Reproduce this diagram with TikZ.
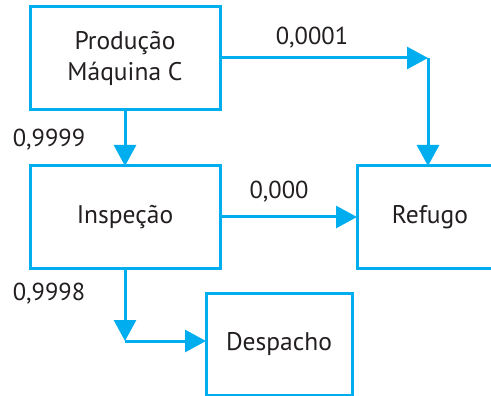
\documentclass[tikz,border=0pt]{standalone}
\usepackage{fontspec}
\setmainfont{PT Sans}
\usetikzlibrary{arrows.meta}
\definecolor{cy}{HTML}{00AEEF}
\definecolor{tx}{HTML}{231F20}
\begin{document}
\begin{tikzpicture}[x=1pt,y=-1pt,
  box/.style={draw=cy,line width=3pt,inner sep=0pt,outer sep=0pt,text=tx,
    font=\fontsize{25.5}{31}\selectfont,align=center},
  conn/.style={draw=cy,line width=3pt,-{Triangle[length=21pt,width=22pt]}},
  lbl/.style={text=tx,font=\fontsize{24.5}{28}\selectfont,inner sep=0pt}]
\useasboundingbox (0,0) rectangle (491,396);
\clip (0,0) rectangle (491,396);
\node[box,minimum width=190pt,minimum height=103pt] (prod) at (125,58.5) {Produção\\Máquina C};
\node[box,minimum width=190pt,minimum height=102pt] (insp) at (125,217) {Inspeção};
\node[box,minimum width=146pt,minimum height=102pt] (ref) at (430,217) {Refugo};
\node[box,minimum width=146pt,minimum height=102pt] (desp) at (279,344) {Despacho};
\coordinate (c1) at (428,58);
\coordinate (c2) at (125,341);
\draw[conn] (prod.east |- c1) -- (c1);
\draw[conn] (c1) -- (c1 |- ref.north);
\draw[conn] (prod.south) -- (insp.north);
\draw[conn] (insp.east) -- (ref.west);
\draw[conn] (insp.south) -- (c2);
\draw[conn] (c2) -- (c2 -| desp.west);
\node[lbl] (l1) at (49,140) {0,9999};
\node[lbl] (l2) at (312,38) {0,0001};
\node[lbl] (l3) at (279,192) {0,000};
\node[lbl] (l4) at (49,294) {0,9998};
\end{tikzpicture}
\end{document}
